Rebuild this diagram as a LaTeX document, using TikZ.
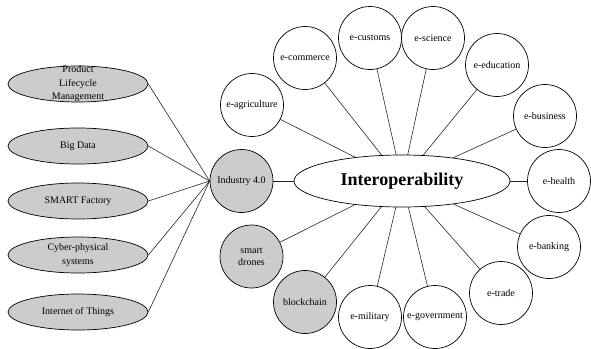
\documentclass[tikz,border=0pt]{standalone}
\usepackage{fontspec}
\setmainfont{Liberation Serif}
\usetikzlibrary{shapes.geometric}
\tikzset{
  x=1pt,y=-1pt,
  circ/.style={circle,draw=black,line width=0.7pt,minimum size=63pt,inner sep=0pt,font=\fontsize{10}{12}\selectfont,align=center},
  wcirc/.style={circ,fill=white},
  gcirc/.style={circ,fill=black!20},
  lell/.style={ellipse,draw=black,line width=0.7pt,fill=black!20,minimum width=140pt,minimum height=36pt,inner sep=0pt},
  ltext/.style={font=\fontsize{10}{13.5}\selectfont,align=center},
  conn/.style={draw=black!85,line width=0.6pt},
}
\begin{document}
\begin{tikzpicture}
\useasboundingbox (0,0) rectangle (591,348);
% left ellipses
\node[lell,label={[ltext]center:Product\\Lifecycle\\Management}] (plm) at (78,84) {};
\node[lell,label={[ltext]center:Big Data}] (bd) at (78,146) {};
\node[lell,label={[ltext]center:SMART Factory}] (sf) at (78,201) {};
\node[lell,label={[ltext]center:Cyber-physical\\systems}] (cps) at (78,255) {};
\node[lell,label={[ltext]center:Internet of Things}] (iot) at (78,312) {};
% centre
\node[ellipse,draw=black,line width=0.7pt,minimum width=216pt,minimum height=52pt,inner sep=0pt,font=\bfseries\fontsize{18}{20}\selectfont] (io) at (402,181) {Interoperability};
\node[gcirc] (ind) at (241.5,181) {Industry 4.0};
\node[gcirc] (sd) at (251.5,256.5) {smart\\drones};
\node[gcirc] (bc) at (305,302) {blockchain};
\node[wcirc] (agr) at (252,105) {e-agriculture};
\node[wcirc] (com) at (305,58) {e-commerce};
\node[wcirc] (cus) at (370,38) {e-customs};
\node[wcirc] (sci) at (433,38) {e-science};
\node[wcirc] (edu) at (497,65) {e-education};
\node[wcirc] (bus) at (545,116) {e-business};
\node[wcirc] (hea) at (559,181) {e-health};
\node[wcirc] (ban) at (549,247) {e-banking};
\node[wcirc] (tra) at (501,293) {e-trade};
\node[wcirc] (gov) at (435,317) {e-government};
\node[wcirc] (mil) at (370,317) {e-military};
% connectors
\foreach \n in {plm,bd,sf,cps,iot} \path[conn] (\n.east) -- (ind.west);
\foreach \n in {ind,sd,bc,agr,com,cus,sci,edu,bus,hea,ban,tra,gov,mil} \path[conn] (\n) -- (io);
\end{tikzpicture}
\end{document}
